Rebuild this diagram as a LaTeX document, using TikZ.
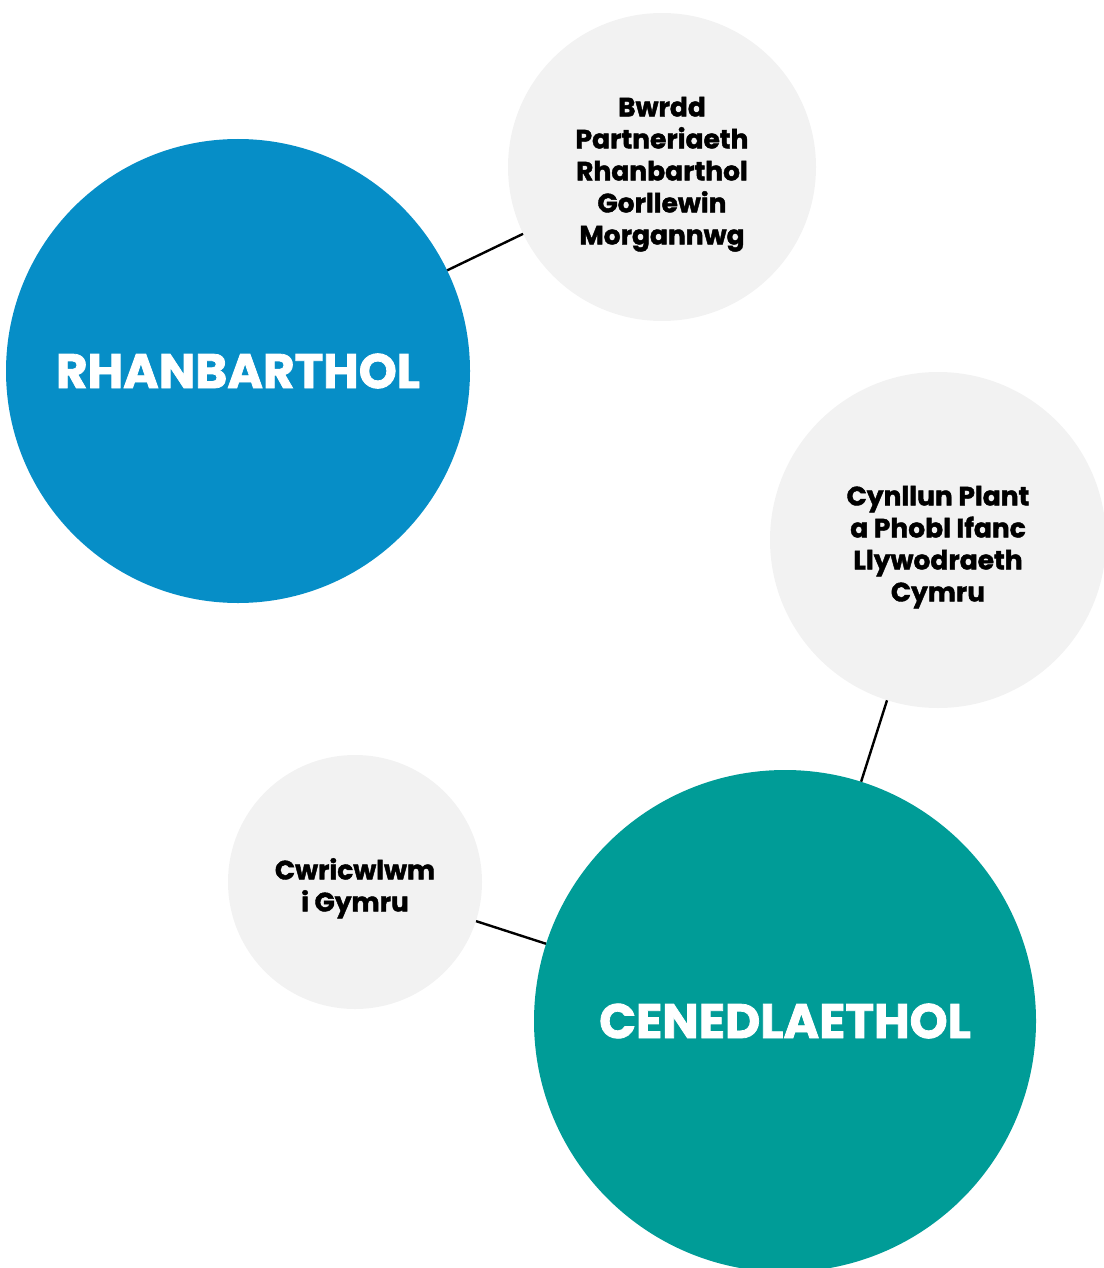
\documentclass[tikz,border=0pt]{standalone}
\usepackage{fontspec}
\setmainfont{Poppins}[BoldFeatures={FakeBold=1.6}]
\usepackage{tikz}

\definecolor{rhanblue}{HTML}{068EC7}
\definecolor{cenedteal}{HTML}{009C97}
\definecolor{bubblegrey}{HTML}{F2F2F2}

\newcommand{\bubbletext}[1]{\raisebox{-7pt}[\height][\depth]{\begin{tabular}{@{}c@{}}#1\end{tabular}}}

\tikzset{
  bigbubble/.style={circle, inner sep=0pt, text=white, font=\fontsize{48.5}{56}\selectfont\bfseries},
  smallbubble/.style={circle, inner sep=0pt, fill=bubblegrey, font=\fontsize{26.5}{32}\selectfont\bfseries},
  link/.style={line width=2.4pt, black}
}

\begin{document}
\begin{tikzpicture}[x=1pt, y=-1pt]
\useasboundingbox (0,0) rectangle (1103,1268);

\node[bigbubble, fill=rhanblue, minimum size=464pt] (rhan) at (238,371) {RHANBARTHOL};	%regional
\node[smallbubble, minimum size=308pt] (bwrdd) at (662,167) {\bubbletext{Bwrdd\\Partneriaeth\\Rhanbarthol\\Gorllewin\\Morgannwg}};
\node[smallbubble, minimum size=336pt] (cynllun) at (938,540) {\bubbletext{Cynllun Plant\\a Phobl Ifanc\\Llywodraeth\\Cymru}};
\node[smallbubble, minimum size=254pt] (cwricwlwm) at (355,882) {\bubbletext{Cwricwlwm\\i Gymru}};
\node[bigbubble, fill=cenedteal, minimum size=502pt] (cened) at (785,1021) {CENEDLAETHOL};	%national

\draw[link] (rhan) -- (bwrdd);
\draw[link] (cened) -- (cynllun);
\draw[link] (cened) -- (cwricwlwm);

\end{tikzpicture}
\end{document}
